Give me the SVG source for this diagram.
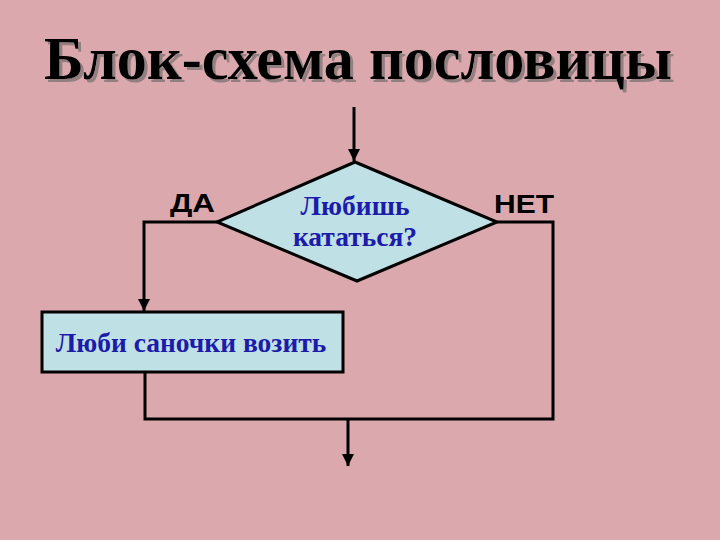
<svg xmlns="http://www.w3.org/2000/svg" width="720" height="540" viewBox="0 0 720 540">
<defs>
<style>
.title{font-family:"Liberation Serif","Times New Roman",serif;font-weight:bold;font-size:62px;text-anchor:middle;fill:#000}
.lbl{font-family:"Liberation Sans",Arial,sans-serif;font-weight:bold;font-size:26px;fill:#000}
.ntx{font-family:"Liberation Serif","Times New Roman",serif;font-weight:bold;font-size:27.5px;fill:#1c1caa;text-anchor:middle}
.shape{fill:#bfe0e4;stroke:#000;stroke-width:3}
.wire{fill:none;stroke:#000;stroke-width:3}
</style>
<filter id="sh" x="-5%" y="-20%" width="110%" height="140%">
<feDropShadow dx="3" dy="3" stdDeviation="0.5" flood-color="#8a7a7c" flood-opacity="0.9"/>
</filter>
<marker id="arr" viewBox="0 0 10 10" refX="10" refY="5" markerWidth="4" markerHeight="5" orient="auto" markerUnits="strokeWidth">
<path d="M0,0 L10,5 L0,10 z" fill="#000"/>
</marker>
</defs>
<rect width="720" height="540" fill="#dba9ad"/>
<g id="title">
<text class="title" x="358" y="79" textLength="628" lengthAdjust="spacingAndGlyphs" filter="url(#sh)">Блок-схема пословицы</text>
</g>
<g id="connectors">
<line class="wire" x1="354" y1="107" x2="354" y2="161" marker-end="url(#arr)"/>
<polyline class="wire" points="217,222 144,222 144,311" marker-end="url(#arr)"/>
<polyline class="wire" points="145,372 145,419 553,419 553,222 497,222"/>
<line class="wire" x1="348" y1="419" x2="348" y2="466" marker-end="url(#arr)"/>
</g>
<g id="decision">
<polygon class="shape" points="355,162 497,222 357,281 217,222"/>
<text class="ntx" x="355" y="215">Любишь</text>
<text class="ntx" x="355" y="246">кататься?</text>
</g>
<g id="action">
<rect class="shape" x="42" y="312" width="301" height="60"/>
<text class="ntx" x="191" y="352">Люби саночки возить</text>
</g>
<g id="labels">
<text class="lbl" x="170" y="212" textLength="45" lengthAdjust="spacingAndGlyphs">ДА</text>
<text class="lbl" x="494" y="213" textLength="60" lengthAdjust="spacingAndGlyphs">НЕТ</text>
</g>
</svg>
